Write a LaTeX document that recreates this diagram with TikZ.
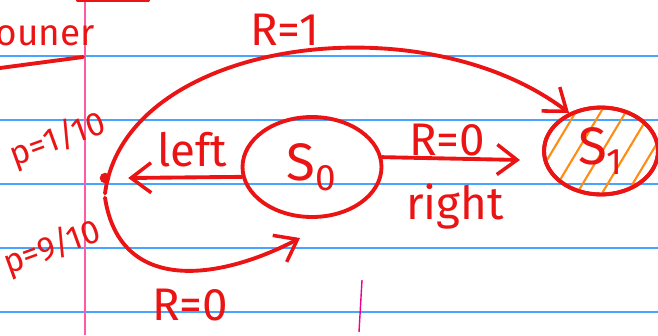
\documentclass[tikz,border=0pt]{standalone}
\usepackage{fontspec}
\setmainfont{Fira Sans}
\usetikzlibrary{shapes.geometric,arrows.meta}

\definecolor{ink}{RGB}{235,20,20}
\definecolor{ruled}{RGB}{70,165,255}
\definecolor{margin}{RGB}{255,90,170}
\definecolor{hatch}{RGB}{255,140,20}

\begin{document}
\begin{tikzpicture}[
  x=0.02cm, y=-0.02cm,
  pen/.style={draw=ink, line width=2.2pt, line cap=round, line join=round},
  state/.style={
    pen, ellipse, inner sep=0pt,
    text=ink, font=\fontsize{30}{30}\selectfont
  },
  lbl/.style={text=ink, font=\fontsize{26}{26}\selectfont, inner sep=1pt},
  plbl/.style={lbl, rotate=20, font=\fontsize{19}{19}\selectfont},
  arr/.style={pen, -{Straight Barb[length=4mm,width=6mm,line width=2pt]}},
]
\useasboundingbox (0,0) rectangle (658,335);

% paper
\foreach \y in {56,120,184,248,312}
  \draw[ruled, line width=1pt] (0,\y) -- (658,\y);
\draw[margin, line width=1.2pt] (85,0) -- (85,335);
\draw[magenta, line width=0.8pt] (362,280) -- (359,332);

% heading remains
\node[lbl, font=\fontsize{21}{21}\selectfont] (head) at (45,36) {ouner};
\draw[pen] (0,68) -- (83,57);
\draw[pen] (78,0.5) -- (148,0.5);

% states
\node[state, minimum width=2.78cm, minimum height=2.0cm] (s0) at (312,167) {S\textsubscript{0}};
\node[state, minimum width=2.28cm, minimum height=1.74cm] (s1) at (601,151) {};
\begin{scope}
  \clip (s1.center) ellipse (1.12cm and 0.85cm);
  \foreach \x in {520,545,...,680}
    \draw[hatch, line width=1.2pt] (\x,205) -- (\x+60,105);
\end{scope}
\node[state, draw=none, minimum width=2.28cm, minimum height=1.74cm] (s1txt) at (601,151) {S\textsubscript{1}};
\draw[pen] (s1.center) ellipse (1.14cm and 0.87cm);

\node[circle, fill=ink, inner sep=0pt, minimum size=6pt] (term) at (105,178) {};
\coordinate (rend) at (520,160);
\coordinate (lowend) at (300,238);

% connectors
\draw[arr] (s0.188) -- ([xshift=10pt]term.east);
\draw[arr] (s0.8) -- (rend);
\draw[arr] ([yshift=-12pt]term.north) .. controls (125,40) and (420,0) .. (s1.130);
\draw[arr] ([yshift=-8pt]term.south) .. controls (120,295) and (220,280) .. (lowend);

% labels
\node[lbl] (rtop)   at (285,30)  {R=1};
\node[lbl] (lleft)  at (192,150) {left};
\node[lbl] (rzero)  at (447,140) {R=0};
\node[lbl] (lright) at (455,207) {right};
\node[lbl] (rlow)   at (190,305) {R=0};
\node[plbl] (pup) at (58,140) {p=1/10};
\node[plbl] (pdn) at (52,248) {p=9/10};
\end{tikzpicture}
\end{document}
